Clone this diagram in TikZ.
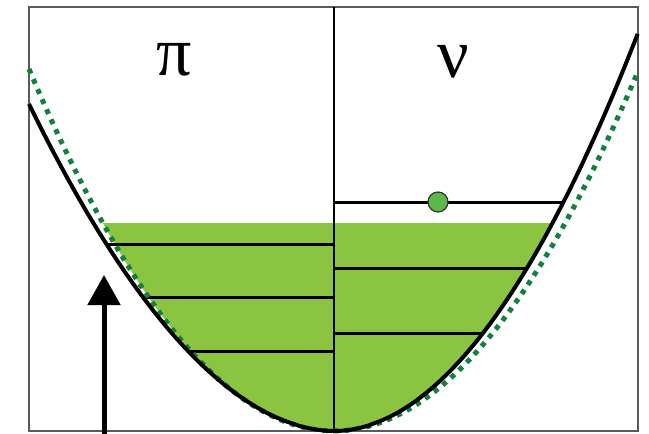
\documentclass[tikz,border=0pt]{standalone}
\usepackage{fontspec}
\newfontfamily\greekfont{Liberation Serif}
\usetikzlibrary{arrows.meta}
\definecolor{fillG}{HTML}{8AC441}
\definecolor{dotG}{HTML}{13803F}
\definecolor{partG}{HTML}{5DB84A}
\definecolor{frameC}{HTML}{5A5A5A}
\tikzset{
  curve/.style={line width=2pt, black},
  classic/.style={line width=2.5pt, dotG, dash pattern=on 2.5pt off 3pt},
  level/.style={line width=1.5pt, black},
  particle/.style={circle, draw=black!80, line width=0.6pt, fill=partG, minimum size=10pt, inner sep=0pt},
  pump/.style={line width=2.5pt, -{Triangle[width=16pt,length=15pt]}},
  sym/.style={font=\greekfont\fontsize{35}{40}\selectfont}
}

\begin{document}
\begin{tikzpicture}[x=0.5pt, y=-0.5pt]
  \useasboundingbox (0,0) rectangle (649,434);
  \coordinate (B) at (334,431);

  % ---- filled levels ----
  \fill[fillG] (102.8,223) -- plot[domain=0.758:0.002, samples=60] ({334-305*\x}, {431-362*\x*\x})
    -- (B) -- plot[domain=0.002:0.7189, samples=60] ({334+304*\x}, {431-398*pow(\x,1.966)}) -- cycle;

  % ---- frame and divider ----
  \draw[frameC, line width=0.75pt] (29,7) rectangle (638,431);
  \coordinate (divT) at (334,7);
  \draw[line width=0.75pt] (divT) -- (B);

  % ---- levels: left (pi) ----
  \foreach \i/\x/\y in {1/106.4/244, 2/142.8/297, 3/188.1/351} {
    \coordinate (pL\i) at (\x,\y);
    \coordinate (pR\i) at (334,\y);
    \draw[level] (pL\i) -- (pR\i);
  }

  % ---- levels: right (nu) ----
  \foreach \i/\x/\y in {1/563.5/202, 2/527/268, 3/483/333} {
    \coordinate (nL\i) at (334,\y);
    \coordinate (nR\i) at (\x,\y);
    \draw[level] (nL\i) -- (nR\i);
  }
  \node[particle] (e) at (438,202) {};

  % ---- potentials ----
  \draw[classic] plot[domain=-1:1, samples=100] ({334+305*\x}, {431-362*\x*\x});
  \draw[curve] plot[domain=1:0.002, samples=80] ({334-305*\x}, {431-327*pow(\x,1.91)})
    -- (B) -- plot[domain=0.002:1, samples=80] ({334+304*\x}, {431-398*pow(\x,1.966)});

  % ---- arrow ----
  \coordinate (aB) at (104,434);
  \coordinate (aT) at (104,275);
  \draw[pump] (aB) -- (aT);

  % ---- labels ----
  \node[sym] (pi) at (174,60) {π};
  \node[sym] (nu) at (453,62) {ν};
\end{tikzpicture}
\end{document}
